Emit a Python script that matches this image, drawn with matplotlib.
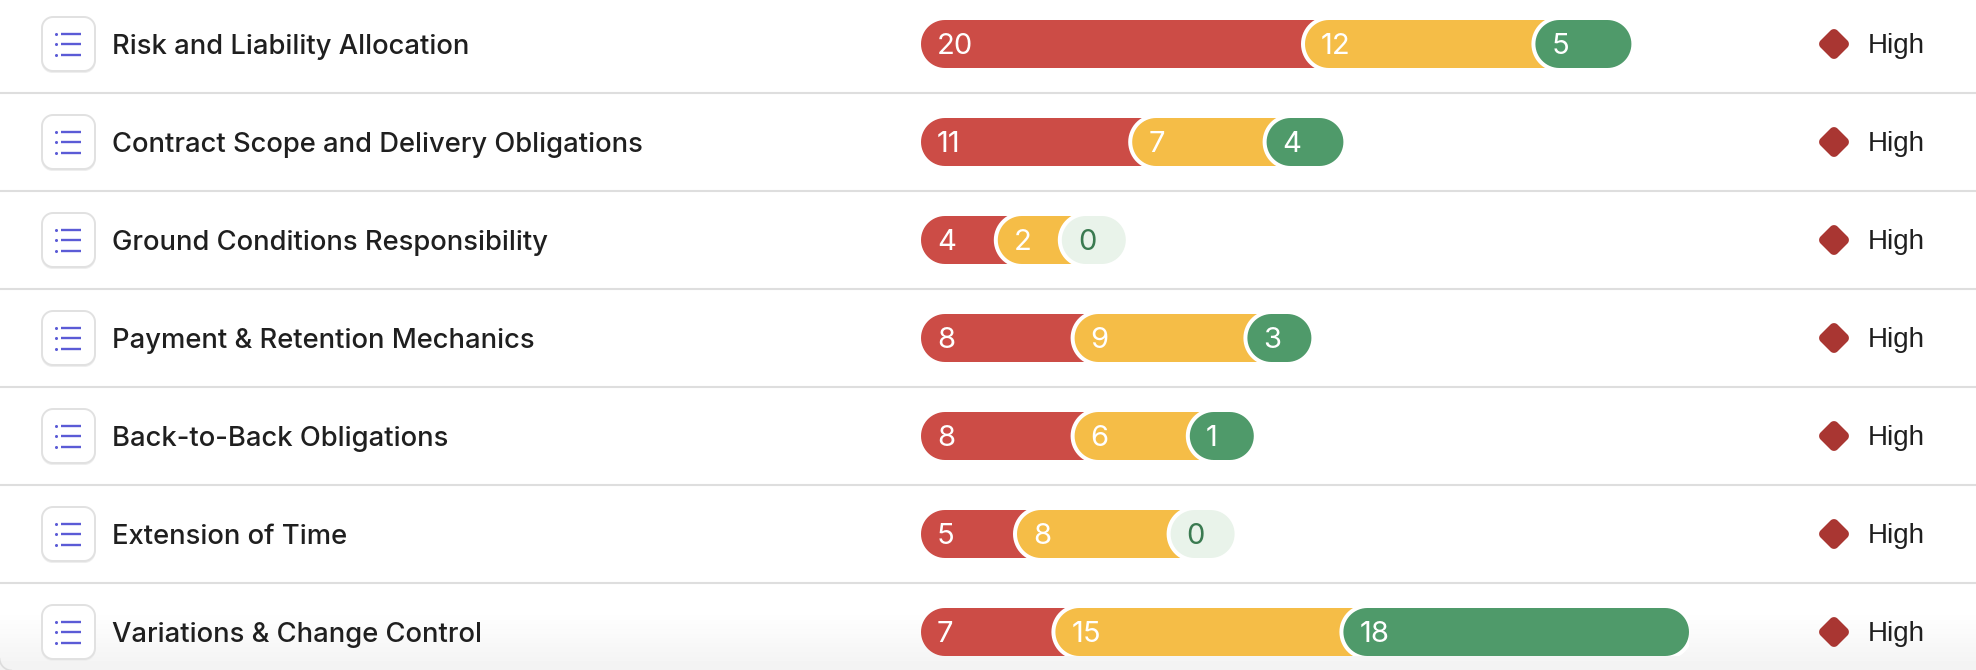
import numpy as np
from matplotlib import pyplot as plt
from matplotlib.patches import Polygon, Arc, Rectangle
from matplotlib.transforms import Affine2D

W, H = 1976, 670

topics = ['Risk and Liability Allocation', 'Contract Scope and Delivery Obligations',
          'Ground Conditions Responsibility', 'Payment & Retention Mechanics',
          'Back-to-Back Obligations', 'Extension of Time', 'Variations & Change Control']
red_counts = [20, 11, 4, 8, 8, 5, 7]
amber_counts = [12, 7, 2, 9, 6, 8, 15]
green_counts = [5, 4, 0, 3, 1, 0, 18]
risk_labels = ['High'] * 7

RED = '#CC4C46'
AMBER = '#F5BD47'
GREEN = '#4F9A6A'
PALE_GREEN = '#E9F3EA'
ZERO_TEXT = '#3A7A50'
DARK = '#1F1F1F'
LINE = '#DEDEDE'
INDIGO = '#5B5BD6'
DIAMOND = '#A93632'

ROW_H = 98
ROW_0 = 44
BAR_X = 921
BAR_H = 48
RING = 4
PX_PER_UNIT = 19.2
MIN_W = 64

plt.rcParams['font.family'] = ['Inter', 'DejaVu Sans']


def rounded_rect(x, y, w, h, r):
    """Outline of a rectangle with true circular corners, (x, y) being its top left."""
    t = np.linspace(0, np.pi / 2, 16)
    corners = [(x + w - r, y + h - r, t),
               (x + r, y + h - r, t + np.pi / 2),
               (x + r, y + r, t + np.pi),
               (x + w - r, y + r, t + 3 * np.pi / 2)]
    pts = [np.column_stack([cx + r * np.cos(a), cy + r * np.sin(a)]) for cx, cy, a in corners]
    return np.vstack(pts)


def pill(ax, x, y, w, h, color, z):
    p = Polygon(rounded_rect(x, y - h / 2, w, h, h / 2), closed=True,
                fc=color, ec='none', lw=0, zorder=z)
    ax.add_patch(p)
    return p


def draw_icon(ax, y):
    shadow = Polygon(rounded_rect(41.5, y - 26, 54, 55, 11), closed=True, fc='#EEEEEE', ec='none', zorder=2)
    ax.add_patch(shadow)
    ax.add_patch(Polygon(rounded_rect(42, y - 27, 53, 54, 11), closed=True,
                         fc='white', ec='#E1E1E1', lw=1.4, zorder=3))
    for dy in (-10.5, 0, 10.5):
        ax.plot([61, 81], [y + dy, y + dy], color=INDIGO, lw=1.7, solid_capstyle='butt', zorder=4)
        ax.plot([56], [y + dy], 'o', color=INDIGO, ms=2.2, mew=0, zorder=4)


def draw_bar(ax, y, counts):
    colors = [RED, AMBER, GREEN]
    x = BAR_X
    lefts = []
    widths = []
    for v in counts:
        w = max(v * PX_PER_UNIT, MIN_W)
        lefts.append(x)
        widths.append(w)
        x += w
    band = Rectangle((BAR_X, y - BAR_H / 2), x - BAR_X, BAR_H, transform=ax.transData)
    for i, v in enumerate(counts):
        z = 5 + i * 2
        w = widths[i]
        # everything but the last segment runs on under the next one's round cap
        if i < 2:
            w += 40
        color = colors[i]
        if i == 2 and v == 0:
            color = PALE_GREEN
        if i > 0:
            # white ring round the cap, cut off at the bar's top and bottom
            ring = pill(ax, lefts[i] - RING, y, w + 2 * RING, BAR_H + 2 * RING, 'white', z)
            ring.set_clip_path(band)
        pill(ax, lefts[i], y, w, BAR_H, color, z + 1)
        txt = ZERO_TEXT if (i == 2 and v == 0) else 'white'
        ax.text(lefts[i] + 16, y + 2, str(v), color=txt, fontsize=21, fontweight='normal',
                va='center', ha='left', zorder=20)


def draw_diamond(ax, y):
    rot = Affine2D().rotate_deg_around(1834, y, 45) + ax.transData
    ax.add_patch(Polygon(rounded_rect(1834 - 12, y - 12, 24, 24, 5), closed=True,
                         fc=DIAMOND, ec='none', transform=rot, zorder=5))


def main():
    fig = plt.figure(figsize=(W / 100, H / 100), dpi=100)
    ax = fig.add_axes([0, 0, 1, 1])
    ax.axis('off')

    # soft fade at the bottom of the card
    fade = np.linspace(1, 0.95, 60).reshape(-1, 1)
    ax.imshow(fade, extent=(0, W, H, 610), cmap='gray', vmin=0, vmax=1, aspect='auto', zorder=0)
    ax.set_xlim(0, W)
    ax.set_ylim(H, 0)
    ax.add_patch(Arc((12, 658), 25, 25, theta1=90, theta2=180, color='#DCDCDC', lw=1.2, zorder=1))

    for i, name in enumerate(topics):
        y = ROW_0 + i * ROW_H
        if i > 0:
            ax.plot([0, W], [y - 49.5, y - 49.5], color=LINE, lw=1.5, solid_capstyle='butt', zorder=1)
        draw_icon(ax, y)
        ax.text(112, y + 2.5, name, color=DARK, fontsize=19.7, fontweight='medium', va='center', ha='left', zorder=5)
        draw_bar(ax, y, [red_counts[i], amber_counts[i], green_counts[i]])
        draw_diamond(ax, y)
        ax.text(1868, y + 2, risk_labels[i], color=DARK, fontsize=20, family=['Liberation Sans', 'DejaVu Sans'],
                va='center', ha='left', zorder=5)

    fig.savefig('out.png', dpi=100, facecolor='white')


if __name__ == "__main__":
    main()
